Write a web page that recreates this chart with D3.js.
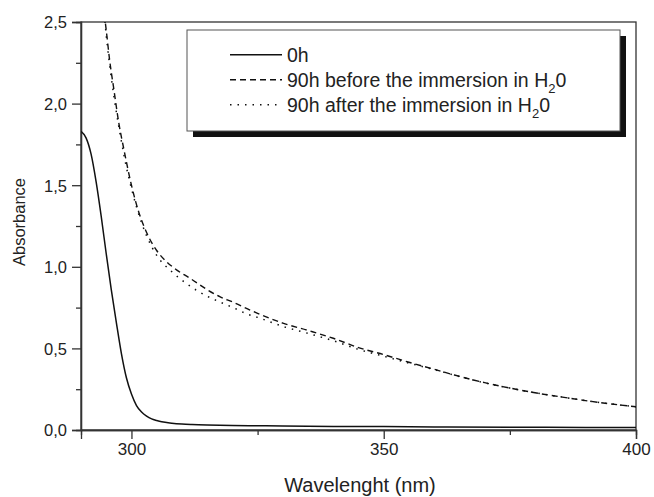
<!DOCTYPE html>
<html>
<head>
<meta charset="utf-8">
<script src="https://cdn.jsdelivr.net/npm/d3@7"></script>
<style>
body { margin: 0; background: #fff; }
text { font-family: "Liberation Sans", Arial, sans-serif; fill: #222; }
</style>
</head>
<body>
<div id="vis"></div>
<script>
// spectra (nm, absorbance)
var wl0h = [290, 291, 292, 293, 294, 295, 296, 297, 298, 299, 300, 301, 302, 303, 304, 305, 306, 308, 310, 312, 315, 320, 325, 330, 340, 350, 360, 375, 390, 400];
var abs0h = [1.83, 1.79, 1.69, 1.52, 1.31, 1.08, 0.86, 0.66, 0.47, 0.32, 0.22, 0.15, 0.11, 0.085, 0.068, 0.058, 0.05, 0.042, 0.037, 0.034, 0.031, 0.028, 0.026, 0.024, 0.022, 0.021, 0.019, 0.017, 0.016, 0.015];

var wlBefore = [294.6, 295, 295.7, 296.5, 297.5, 298.5, 300, 301.5, 303, 305, 307, 309, 311.6, 315, 317.5, 320, 323.5, 325, 330, 335, 340, 345, 350, 355, 360, 364, 370, 375, 380, 387, 390, 395, 400];
var absBefore = [2.55, 2.45, 2.26, 2.09, 1.88, 1.72, 1.50, 1.33, 1.21, 1.10, 1.03, 0.98, 0.93, 0.86, 0.817, 0.785, 0.735, 0.715, 0.655, 0.61, 0.562, 0.505, 0.462, 0.415, 0.372, 0.337, 0.29, 0.257, 0.228, 0.194, 0.18, 0.16, 0.142];

var wlAfter = [294.6, 295, 296, 297, 298, 299, 300, 302, 303, 305, 308, 311, 315, 318, 320, 323, 325, 330, 335, 340, 345, 350, 355, 360, 364, 370, 375, 380, 387, 390, 395, 400];
var absAfter = [2.55, 2.42, 2.16, 1.95, 1.77, 1.61, 1.48, 1.27, 1.19, 1.07, 0.97, 0.895, 0.82, 0.778, 0.752, 0.71, 0.69, 0.635, 0.592, 0.547, 0.494, 0.452, 0.41, 0.37, 0.336, 0.289, 0.257, 0.228, 0.194, 0.18, 0.16, 0.142];

var seriesNames = ["0h", "90h before the immersion in H", "90h after the immersion in H"];
var xTicks = [300, 350, 400];
var yTicks = [0, 0.5, 1.0, 1.5, 2.0, 2.5];

var margin = {top: 22, right: 18, bottom: 67, left: 81},
	width = 654 - margin.left - margin.right,
	height = 497 - margin.top - margin.bottom;

var svg = d3.select("#vis").append("svg")
	.attr("width", 654)
	.attr("height", 497);

var g = svg.append("g")
	.attr("transform", "translate(" + margin.left + "," + margin.top + ")");

var x = d3.scaleLinear().domain([290, 400]).range([0, width]);
var y = d3.scaleLinear().domain([0, 2.5]).range([height, 0]);

var fmt = function(d) { return d3.format(".1f")(d).replace(".", ","); };

svg.append("defs").append("clipPath").attr("id", "clip")
	.append("rect").attr("width", width).attr("height", height);

// frame
g.append("rect")
	.attr("width", width).attr("height", height)
	.attr("fill", "none").attr("stroke", "#333").attr("stroke-width", 1.3);

// axes
g.append("g").attr("class", "xaxis").attr("transform", "translate(0," + height + ")")
	.call(d3.axisBottom(x).tickValues(xTicks).tickSize(9).tickPadding(4).tickFormat(d3.format("d")));
g.append("g").attr("transform", "translate(0," + height + ")")
	.call(d3.axisBottom(x).tickValues([325, 375]).tickSize(5).tickFormat(""));
g.append("g").attr("class", "yaxis")
	.call(d3.axisLeft(y).tickValues(yTicks).tickSize(9).tickPadding(5).tickFormat(fmt));
g.append("g")
	.call(d3.axisLeft(y).tickValues([0.25, 0.75, 1.25, 1.75, 2.25]).tickSize(5).tickFormat(""));

g.selectAll(".domain").attr("stroke", "#333").attr("stroke-width", 1.3);
g.selectAll(".tick line").attr("stroke", "#333").attr("stroke-width", 1.3);
g.selectAll(".tick text")
	.attr("font-size", null).attr("font-family", null)
	.style("font-size", "17px")
	.style("font-family", "Liberation Sans, Arial, sans-serif")
	.attr("fill", "#222");
g.selectAll(".yaxis .tick text").style("font-size", "16.5px").attr("dy", "0.36em");

// axis titles
svg.append("text")
	.attr("x", 360)
	.attr("y", 492)
	.attr("text-anchor", "middle")
	.style("font-size", "20px")
	.text("Wavelenght (nm)");

svg.append("text")
	.attr("transform", "translate(25,222) rotate(-90)")
	.attr("text-anchor", "middle")
	.style("font-size", "16.5px")
	.text("Absorbance");

// curves
var line = d3.line()
	.x(function(d) { return x(d[0]); })
	.y(function(d) { return y(d[1]); })
	.curve(d3.curveMonotoneX);

var styles = [
	{dash: null, w: 1.5},
	{dash: "6,4", w: 1.4},
	{dash: "1.5,6", w: 1.5}
];

var curves = [
	d3.zip(wl0h, abs0h),
	d3.zip(wlBefore, absBefore),
	d3.zip(wlAfter, absAfter)
];

var plot = g.append("g").attr("clip-path", "url(#clip)");
curves.forEach(function(c, i) {
	plot.append("path")
		.datum(c)
		.attr("d", line)
		.attr("fill", "none")
		.attr("stroke", "#111")
		.attr("stroke-width", styles[i].w)
		.attr("stroke-dasharray", styles[i].dash);
});

// legend box with shadow
var lg = svg.append("g").attr("transform", "translate(187,30)");
lg.append("rect").attr("x", 6).attr("y", 6).attr("width", 433).attr("height", 101).attr("fill", "#111");
lg.append("rect").attr("width", 433).attr("height", 101)
	.attr("fill", "#fff").attr("stroke", "#555").attr("stroke-width", 1);

seriesNames.forEach(function(name, i) {
	var base = 31.7 + i * 25;
	lg.append("line")
		.attr("x1", 43).attr("x2", 95)
		.attr("y1", base - 7).attr("y2", base - 7)
		.attr("stroke", "#111")
		.attr("stroke-width", styles[i].w)
		.attr("stroke-dasharray", styles[i].dash);
	var t = lg.append("text")
		.attr("x", 100).attr("y", base)
		.style("font-size", "19.5px")
		.text(name);
	if (i > 0) {
		t.append("tspan").attr("dy", 6).style("font-size", "13px").text("2");
		t.append("tspan").attr("dy", -6).text("0");
	}
});
</script>
</body>
</html>
